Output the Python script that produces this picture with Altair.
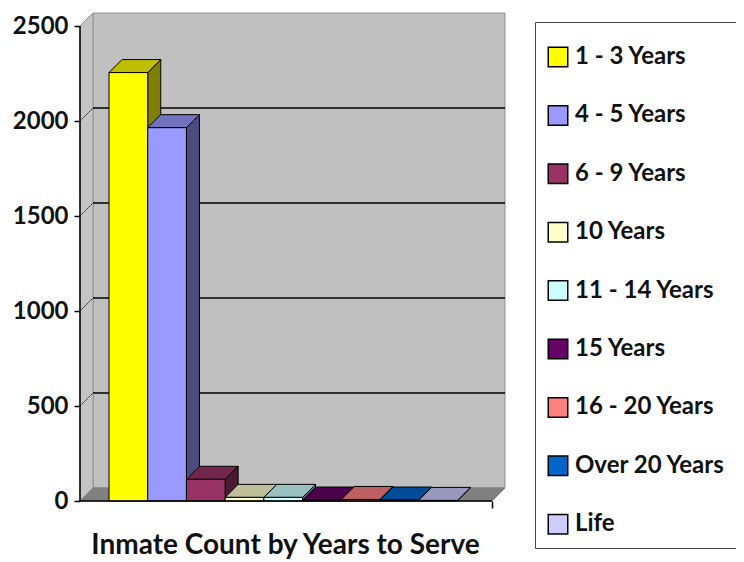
import altair as alt
import pandas as pd

# ---------------- data ----------------
categories = ["1 - 3 Years", "4 - 5 Years", "6 - 9 Years", "10 Years", "11 - 14 Years",
              "15 Years", "16 - 20 Years", "Over 20 Years", "Life"]
counts = [2255, 1965, 114, 19, 19, 5, 8, 5, 3]
front_colors = ["#FFFF00", "#9999FF", "#993366", "#FFFFCC", "#CCFFFF",
                "#660066", "#FF8080", "#0066CC", "#CCCCFF"]
y_ticks = [0, 500, 1000, 1500, 2000, 2500]
title_text = "Inmate Count by Years to Serve"

# ---------------- geometry (styles) ----------------
FONT = "Lato"
DX = 0.336          # depth in bar-width units
DY = 68.6           # depth in value units
XL = -0.75          # front-left edge of floor
XR = 10.23          # back-right edge of wall
XF = XR - DX        # front-right edge of floor
YTOP = 2500
YMAX = YTOP + DY


def shade(hex_color, f):
    h = hex_color.lstrip("#")
    r, g, b = (int(h[i:i + 2], 16) for i in (0, 2, 4))
    return "#%02X%02X%02X" % (int(r * f), int(g * f), int(b * f))


bars = pd.DataFrame({
    "cat": categories,
    "x0": [float(i) for i in range(len(categories))],
    "x1": [float(i + 1) for i in range(len(categories))],
    "v": counts,
})

top_rows, side_rows = [], []
for i, (c, v, col) in enumerate(zip(categories, counts, front_colors)):
    top_rows.append({"cat": c, "yy": v, "xa": i, "xb": i + 1, "col": shade(col, 0.75)})
    top_rows.append({"cat": c, "yy": v + DY, "xa": i + DX, "xb": i + 1 + DX, "col": shade(col, 0.75)})
    side_rows.append({"cat": c, "xx": i + 1, "ya": 0, "yb": v, "col": shade(col, 0.5)})
    side_rows.append({"cat": c, "xx": i + 1 + DX, "ya": DY, "yb": v + DY, "col": shade(col, 0.5)})
tops = pd.DataFrame(top_rows)
sides = pd.DataFrame(side_rows)

xscale = alt.Scale(domain=[XL, XR], nice=False, zero=False)
yscale = alt.Scale(domain=[0, YMAX], nice=False, zero=False)

xaxis = alt.Axis(title=title_text, values=[XF], labels=False, ticks=True, tickSize=7,
                 tickColor="black", tickWidth=1.5, domain=False, grid=False,
                 titleFont=FONT, titleFontSize=28, titleFontWeight="bold", titleColor="#111",
                 titlePadding=23, titleX=205)
yaxis = alt.Axis(title=None, values=y_ticks, format="d", domain=False, grid=False, ticks=True,
                 tickSize=6, tickColor="black", tickWidth=1.5,
                 labelFont=FONT, labelFontSize=24, labelFontWeight="bold", labelColor="#111",
                 labelPadding=6)


def X(f):
    return alt.X(f, type="quantitative", scale=xscale, axis=xaxis)


def Y(f):
    return alt.Y(f, type="quantitative", scale=yscale, axis=yaxis)


# back wall
wall = alt.Chart(pd.DataFrame({"a": [XL + DX], "b": [XR], "c": [DY], "d": [YMAX]})).mark_rect(
    fill="#C0C0C0", stroke="#909090", strokeWidth=1
).encode(x=X("a"), x2="b", y=Y("c"), y2="d")

# left wall
lw = pd.DataFrame({"xx": [XL, XL + DX], "ya": [0, DY], "yb": [YTOP, YMAX]})
leftwall = alt.Chart(lw).mark_area(fill="#C4C4C4", stroke="#909090", strokeWidth=1).encode(
    x=X("xx"), y=Y("ya"), y2="yb")

# floor
fl = pd.DataFrame({"yy": [0, DY], "xa": [XL, XL + DX], "xb": [XF, XR]})
floor = alt.Chart(fl).mark_area(orient="horizontal", fill="#808080", stroke="#808080").encode(
    y=Y("yy"), x=X("xa"), x2="xb")

# grid lines on back wall and diagonals on left wall
grid_vals = [v for v in y_ticks if 0 < v < YTOP]
gd = pd.DataFrame({"g": [v + DY for v in grid_vals], "xa": XL + DX, "xb": XR})
grid = alt.Chart(gd).mark_rule(color="black", strokeWidth=1.5).encode(
    x=X("xa"), x2="xb", y=Y("g"))
dg = pd.DataFrame({"ya": grid_vals, "yb": [v + DY for v in grid_vals], "xa": XL, "xb": XL + DX})
diag = alt.Chart(dg).mark_rule(color="#222", strokeWidth=1, strokeDash=[2, 1]).encode(
    x=X("xa"), x2="xb", y=Y("ya"), y2="yb")

# front axis lines
axl = alt.Chart(pd.DataFrame({"xa": [XL], "ya": [0], "yb": [YTOP]})).mark_rule(
    color="black", strokeWidth=1.5).encode(x=X("xa"), y=Y("ya"), y2="yb")
axb = alt.Chart(pd.DataFrame({"xa": [XL], "xb": [XF], "ya": [0]})).mark_rule(
    color="black", strokeWidth=1.5).encode(x=X("xa"), x2="xb", y=Y("ya"))

# bars
side = alt.Chart(sides).mark_area(stroke="black", strokeWidth=1).encode(
    x=X("xx"), y=Y("ya"), y2="yb", detail="cat:N",
    fill=alt.Fill("col:N", scale=None))
top = alt.Chart(tops).mark_area(orient="horizontal", stroke="black", strokeWidth=1).encode(
    y=Y("yy"), x=X("xa"), x2="xb", detail="cat:N",
    fill=alt.Fill("col:N", scale=None))
front = alt.Chart(bars).mark_rect(stroke="black", strokeWidth=1).encode(
    x=X("x0"), x2="x1", y=Y("v"), y2=alt.Y2(datum=0),
    fill=alt.Fill("cat:N", sort=categories,
                  scale=alt.Scale(domain=categories, range=front_colors),
                  legend=alt.Legend(
                      title=" ", titleFontSize=10, titlePadding=2,
                      orient="none", legendX=455, legendY=9,
                      direction="vertical", symbolType="square", symbolSize=380,
                      symbolStrokeColor="black", symbolStrokeWidth=1.5,
                      labelFont=FONT, labelFontSize=24, labelFontWeight="bold",
                      labelColor="#111", labelLimit=400, labelOffset=5,
                      rowPadding=32.4, padding=11, strokeColor="#444",
                      fillColor="white", cornerRadius=0)))

chart = alt.layer(wall, leftwall, floor, grid, diag, side, top, front, axl, axb).properties(
    width=425, height=488,
    autosize=alt.AutoSizeParams(type="none"),
    padding={"left": 72, "top": 5, "right": 231, "bottom": 62},
    background="white",
).configure_view(stroke=None)

chart.save("out.html", embed_options={"renderer": "svg", "actions": False})
